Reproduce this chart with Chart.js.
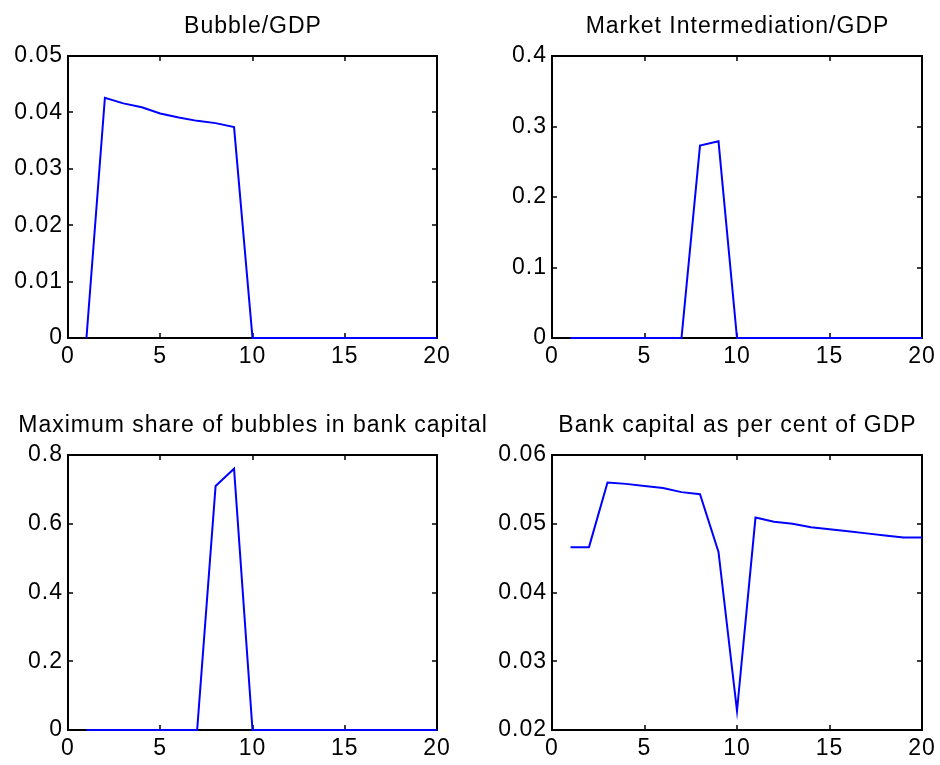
<!DOCTYPE html>
<html lang="en">
<head>
  <meta charset="UTF-8" />
  <title>Bubble panels</title>
  <script src="https://cdn.jsdelivr.net/npm/chart.js"></script>
  <style>
    body { margin: 0; background: #fff; overflow: hidden; }
    #wrap { position: relative; width: 940px; height: 765px; }
    #wrap canvas { position: absolute; left: 0; top: 0; }
  </style>
</head>
<body>
  <div id="wrap">
    <canvas id="c1" width="940" height="765"></canvas>
    <canvas id="c2" width="940" height="765"></canvas>
    <canvas id="c3" width="940" height="765"></canvas>
    <canvas id="c4" width="940" height="765"></canvas>
  </div>

  <script>
    const periods = [1, 2, 3, 4, 5, 6, 7, 8, 9, 10, 11, 12, 13, 14, 15, 16, 17, 18, 19, 20];
    const bubbleGdp = [0, 0.0426, 0.0416, 0.0409, 0.0398, 0.0391, 0.0385, 0.0381, 0.0374, 0,
                       0, 0, 0, 0, 0, 0, 0, 0, 0, 0];
    const marketGdp = [0, 0, 0, 0, 0, 0, 0, 0.273, 0.279, 0,
                       0, 0, 0, 0, 0, 0, 0, 0, 0, 0];
    const maxShare = [0, 0, 0, 0, 0, 0, 0, 0.710, 0.760, 0,
                      0, 0, 0, 0, 0, 0, 0, 0, 0, 0];
    const bankCapital = [0.0466, 0.0466, 0.0560, 0.0558, 0.0555, 0.0552, 0.0546, 0.0543, 0.0459, 0.0228,
                         0.0509, 0.0503, 0.0500, 0.0495, 0.0492, 0.0489, 0.0486, 0.0483, 0.0480, 0.0480];

    const xTicks = [0, 5, 10, 15, 20];
    const bubbleTicks = [0, 0.01, 0.02, 0.03, 0.04, 0.05];
    const marketTicks = [0, 0.1, 0.2, 0.3, 0.4];
    const shareTicks = [0, 0.2, 0.4, 0.6, 0.8];
    const capitalTicks = [0.02, 0.03, 0.04, 0.05, 0.06];

    const fontFamily = "'Liberation Sans', Arial, sans-serif";
    Chart.defaults.font.family = fontFamily;
    Chart.defaults.font.size = 23;
    Chart.defaults.color = '#000';

    // matlab-style box with inward ticks on all four sides, plus a title centred on the plot box
    const frame = {
      id: 'frame',
      beforeDraw(chart) {
        chart.ctx.letterSpacing = '1px';
      },
      beforeDatasetsDraw(chart) {
        const { ctx, chartArea: a, scales } = chart;
        ctx.save();
        ctx.strokeStyle = '#000';
        ctx.lineWidth = 2;
        ctx.strokeRect(a.left, a.top, a.right - a.left, a.bottom - a.top);
        ctx.lineWidth = 1.5;
        ctx.beginPath();
        scales.x.ticks.forEach(t => {
          const px = Math.round(scales.x.getPixelForValue(t.value));
          ctx.moveTo(px, a.bottom); ctx.lineTo(px, a.bottom - 5);
          ctx.moveTo(px, a.top); ctx.lineTo(px, a.top + 5);
        });
        scales.y.ticks.forEach(t => {
          const py = Math.round(scales.y.getPixelForValue(t.value));
          ctx.moveTo(a.left, py); ctx.lineTo(a.left + 5, py);
          ctx.moveTo(a.right, py); ctx.lineTo(a.right - 5, py);
        });
        ctx.stroke();
        ctx.restore();
      },
      afterDraw(chart, args, opts) {
        const { ctx, chartArea: a } = chart;
        ctx.save();
        ctx.letterSpacing = '1px';
        ctx.font = '23px ' + fontFamily;
        ctx.fillStyle = '#000';
        ctx.textAlign = 'center';
        ctx.textBaseline = 'alphabetic';
        ctx.fillText(opts.text, (a.left + a.right) / 2 + 0.5, a.top - 23);
        ctx.restore();
      }
    };

    function makePanel(id, title, values, yTicks, pad) {
      const ctx = document.getElementById(id).getContext('2d');
      return new Chart(ctx, {
        type: 'line',
        data: {
          datasets: [{
            data: periods.map((p, i) => ({ x: p, y: values[i] })),
            borderColor: '#0000ff',
            borderWidth: 2,
            pointRadius: 0,
            tension: 0,
            fill: false,
            clip: 3
          }]
        },
        options: {
          responsive: false,
          animation: false,
          events: [],
          layout: { padding: pad },
          scales: {
            x: {
              type: 'linear',
              min: 0, max: 20,
              grid: { display: false, drawTicks: false },
              border: { display: false },
              afterBuildTicks: s => { s.ticks = xTicks.map(v => ({ value: v })); },
              afterFit: s => { s.height = 30; },
              ticks: { padding: 5, maxRotation: 0, autoSkip: false }
            },
            y: {
              type: 'linear',
              min: yTicks[0], max: yTicks[yTicks.length - 1],
              grid: { display: false, drawTicks: false },
              border: { display: false },
              afterBuildTicks: s => { s.ticks = yTicks.map(v => ({ value: v })); },
              afterFit: s => { s.width = 68; },
              ticks: { padding: 5, autoSkip: false, callback: v => String(v) }
            }
          },
          plugins: {
            legend: { display: false },
            tooltip: { enabled: false },
            title: { display: false },
            frame: { text: title }
          }
        },
        plugins: [frame]
      });
    }

    makePanel('c1', 'Bubble/GDP', bubbleGdp, bubbleTicks, { left: 0, right: 503, top: 56, bottom: 397 });
    makePanel('c2', 'Market Intermediation/GDP', marketGdp, marketTicks, { left: 484, right: 18, top: 56, bottom: 397 });
    makePanel('c3', 'Maximum share of bubbles in bank capital', maxShare, shareTicks, { left: 0, right: 503, top: 455, bottom: 5 });
    makePanel('c4', 'Bank capital as per cent of GDP', bankCapital, capitalTicks, { left: 484, right: 18, top: 455, bottom: 5 });
  </script>
</body>
</html>
